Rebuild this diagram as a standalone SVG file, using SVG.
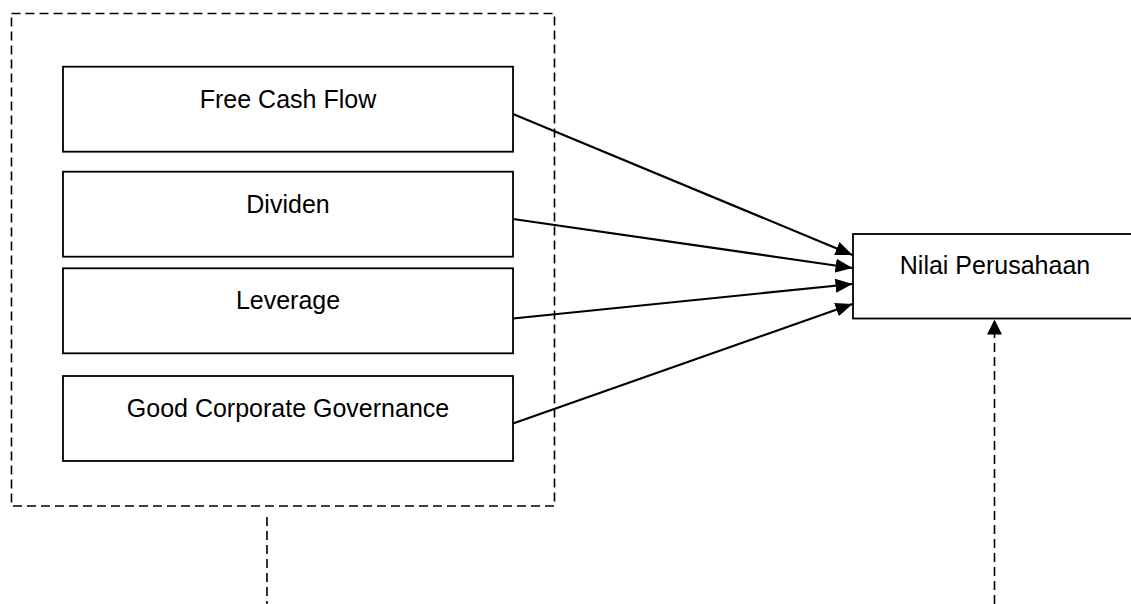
<svg xmlns="http://www.w3.org/2000/svg" width="1131" height="604" viewBox="0 0 1131 604">
<style>
.box{fill:#fff;stroke:#000;stroke-width:1.8}
.dash{fill:none;stroke:#000;stroke-width:1.6;stroke-dasharray:9 5}
.lbl{font-family:"Liberation Sans",Arial,sans-serif;font-size:25px;fill:#000;text-anchor:middle}
.arr{stroke:#000;stroke-width:2.2;fill:none;marker-end:url(#ah)}
</style>
<defs>
<marker id="ah" markerUnits="userSpaceOnUse" markerWidth="18" markerHeight="16" viewBox="0 0 18 16" refX="17" refY="8" orient="auto">
<path d="M0,1 L17,8 L0,15 Z" fill="#000"/>
</marker>
</defs>
<rect width="1131" height="604" fill="#fff"/>
<g id="group-box">
<rect class="dash" x="11.5" y="13.5" width="543" height="492.5"/>
</g>
<g id="node-fcf">
<rect class="box" x="63" y="66.7" width="450" height="85"/>
<text class="lbl" x="288" y="108">Free Cash Flow</text>
</g>
<g id="node-dividen">
<rect class="box" x="63" y="171.7" width="450" height="85"/>
<text class="lbl" x="288" y="213">Dividen</text>
</g>
<g id="node-leverage">
<rect class="box" x="63" y="268.3" width="450" height="85"/>
<text class="lbl" x="288" y="309">Leverage</text>
</g>
<g id="node-gcg">
<rect class="box" x="63" y="376" width="450" height="85"/>
<text class="lbl" x="288" y="417">Good Corporate Governance</text>
</g>
<g id="node-nilai">
<rect class="box" x="853" y="234" width="284" height="84.5"/>
<text class="lbl" x="995" y="274">Nilai Perusahaan</text>
</g>
<g id="connectors">
<line class="arr" x1="513" y1="114" x2="852.5" y2="255"/>
<line class="arr" x1="513" y1="219" x2="852.5" y2="268"/>
<line class="arr" x1="513" y1="318.5" x2="852.5" y2="284"/>
<line class="arr" x1="513" y1="423.5" x2="852.5" y2="304"/>
<line class="dash" x1="267" y1="517" x2="267" y2="604" stroke-dasharray="8 6"/>
<line class="dash" x1="994.5" y1="604" x2="994.5" y2="334" stroke-dasharray="8 6" stroke-width="2.2"/>
<path d="M994.5,319.5 L1002,334.5 L987,334.5 Z" fill="#000"/>
</g>
</svg>
